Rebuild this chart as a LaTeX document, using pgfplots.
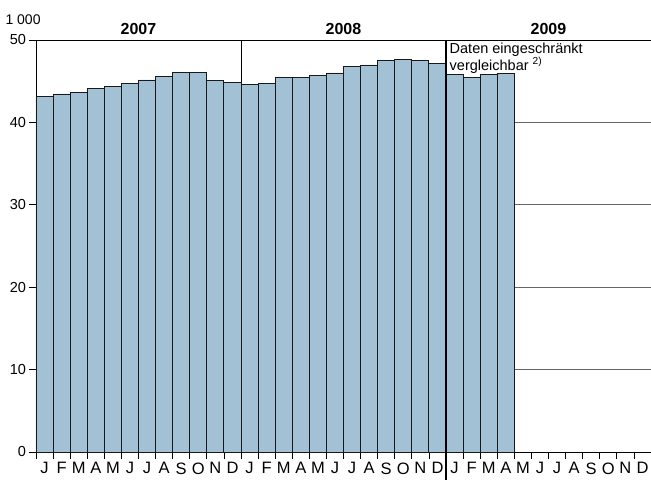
\documentclass[border=0pt]{standalone}
\usepackage{pgfplots}
\pgfplotsset{compat=1.18}
\usepackage{fontspec}
\setmainfont{Liberation Sans}
\definecolor{barblue}{HTML}{A3C1D5}
\begin{document}
\begin{tikzpicture}
\useasboundingbox (-36pt,-28pt) rectangle (615pt,452pt);
\begin{axis}[
  at={(0,0)}, anchor=south west,
  scale only axis, width=615pt, height=412pt,
  xmin=0, xmax=36, ymin=0, ymax=50,
  axis x line*=bottom, axis y line*=left,
  axis line style={-, black, line width=0.8pt},
  ytick={0,10,...,50},
  ymajorgrids, grid style={black!60, line width=0.8pt},
  xtick={0,1,...,36}, xticklabels={},
  extra x ticks={0.5,1.5,...,35.5},
  extra x tick labels={J,F,M,A,M,J,J,A,S,O,N,D,J,F,M,A,M,J,J,A,S,O,N,D,J,F,M,A,M,J,J,A,S,O,N,D},
  extra x tick style={major tick length=0pt, tick label style={yshift=-7pt, font=\fontsize{16.5}{18}\selectfont}},
  tick align=outside, major tick length=6.5pt,
  tick style={black, line width=0.8pt},
  yticklabel style={font=\fontsize{14.5}{16}\selectfont},
  /pgf/number format/assume math mode=true,
  clip=false,
]
\draw[black, line width=0.8pt] (axis cs:12,0) -- (axis cs:12,50);
\addplot[ybar, bar width=1, bar shift=0, fill=barblue, draw=black!90, line width=0.9pt] coordinates {
(0.5,43.17) (1.5,43.45) (2.5,43.65) (3.5,44.1) (4.5,44.35) (5.5,44.7)
(6.5,45.15) (7.5,45.55) (8.5,46.07) (9.5,46.1) (10.5,45.1) (11.5,44.8)
(12.5,44.6) (13.5,44.7) (14.5,45.4) (15.5,45.4) (16.5,45.65) (17.5,46.0)
(18.5,46.8) (19.5,46.97) (20.5,47.57) (21.5,47.6) (22.5,47.5) (23.5,47.17)
(24.5,45.85) (25.5,45.5) (26.5,45.8) (27.5,45.9)
};
\node[anchor=north west, inner sep=1.5pt, align=left, font=\fontsize{14.5}{17}\selectfont] at (axis cs:24,50) [xshift=2pt, yshift=-1pt] {Daten eingeschränkt\\vergleichbar \textsuperscript{2)}};
\draw[black, line width=0.8pt] (axis cs:0,50) -- (axis cs:36,50);
\draw[black, line width=1.4pt] (axis cs:24,50) -- (axis cs:24,0) -- ++(0pt,-28pt);
\node[anchor=base, yshift=6pt, font=\bfseries\fontsize{16}{18}\selectfont] at (axis cs:6,50) {2007};
\node[anchor=base, yshift=6pt, font=\bfseries\fontsize{16}{18}\selectfont] at (axis cs:18,50) {2008};
\node[anchor=base, yshift=6pt, font=\bfseries\fontsize{16}{18}\selectfont] at (axis cs:30,50) {2009};
\node[anchor=base west, xshift=-34pt, yshift=16pt, font=\fontsize{14}{16}\selectfont] at (axis cs:0,50) {1 000};
\end{axis}
\end{tikzpicture}
\end{document}
